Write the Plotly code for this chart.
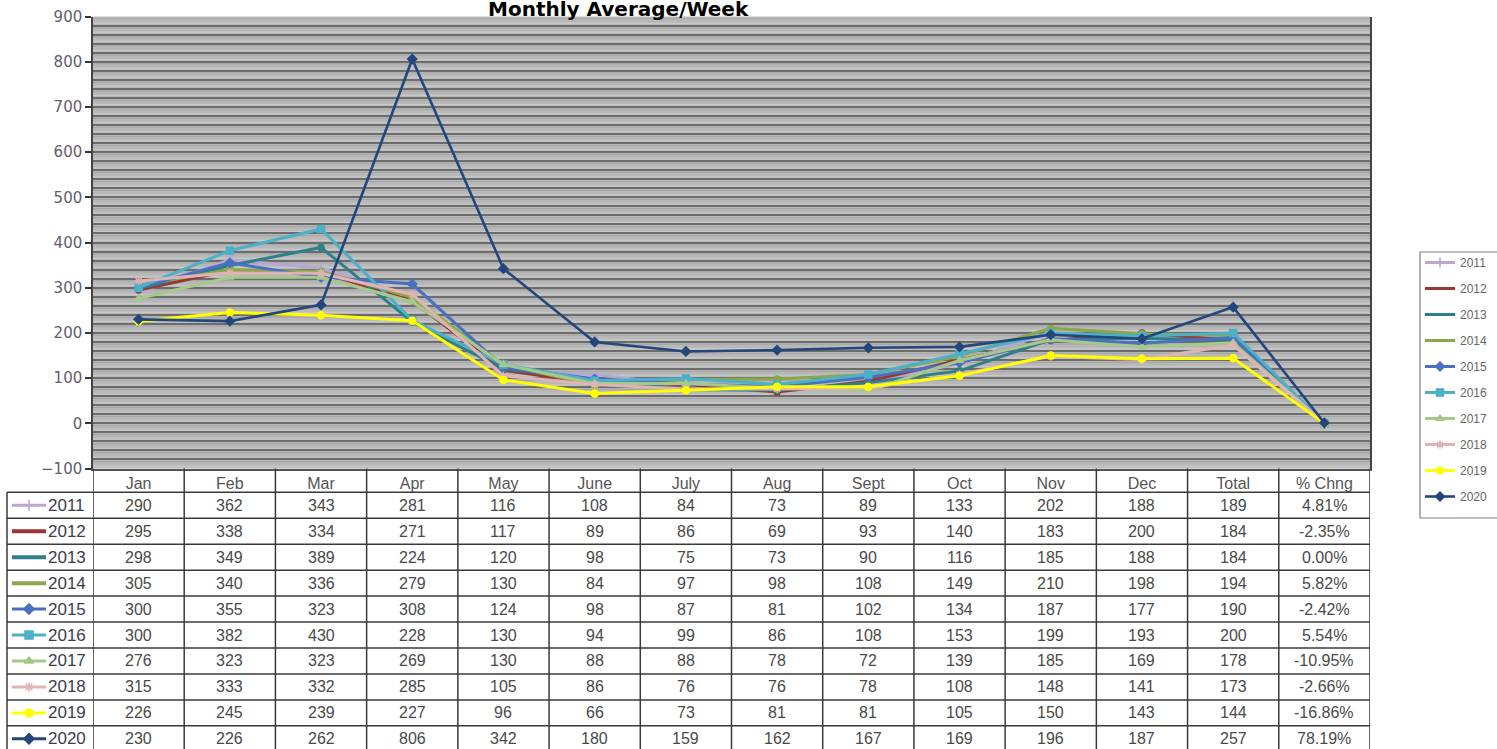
import plotly.graph_objects as go

# ---------------- data ----------------
categories = ["Jan", "Feb", "Mar", "Apr", "May", "June", "July", "Aug",
              "Sept", "Oct", "Nov", "Dec", "Total", "% Chng"]
years = ["2011", "2012", "2013", "2014", "2015", "2016", "2017", "2018", "2019", "2020"]

v2011 = [290, 362, 343, 281, 116, 108, 84, 73, 89, 133, 202, 188]
v2012 = [295, 338, 334, 271, 117, 89, 86, 69, 93, 140, 183, 200]
v2013 = [298, 349, 389, 224, 120, 98, 75, 73, 90, 116, 185, 188]
v2014 = [305, 340, 336, 279, 130, 84, 97, 98, 108, 149, 210, 198]
v2015 = [300, 355, 323, 308, 124, 98, 87, 81, 102, 134, 187, 177]
v2016 = [300, 382, 430, 228, 130, 94, 99, 86, 108, 153, 199, 193]
v2017 = [276, 323, 323, 269, 130, 88, 88, 78, 72, 139, 185, 169]
v2018 = [315, 333, 332, 285, 105, 86, 76, 76, 78, 108, 148, 141]
v2019 = [226, 245, 239, 227, 96, 66, 73, 81, 81, 105, 150, 143]
v2020 = [230, 226, 262, 806, 342, 180, 159, 162, 167, 169, 196, 187]

totals = [189, 184, 184, 194, 190, 200, 178, 173, 144, 257]
pct_change = [4.81, -2.35, 0.00, 5.82, -2.42, 5.54, -10.95, -2.66, -16.86, 78.19]

monthly = [v2011, v2012, v2013, v2014, v2015, v2016, v2017, v2018, v2019, v2020]

# ---------------- styles ----------------
colors = ["#b8a6d4", "#9c3535", "#2e8088", "#8aa84a", "#4a70c0",
          "#4bb0c8", "#a6c98a", "#e0b4b4", "#ffff00", "#23467c"]
symbols = ["cross-thin-open", "circle", "circle", "circle", "diamond",
           "square", "triangle-up", "asterisk-open", "circle", "diamond"]
msizes = [7, 0, 0, 0, 7, 7, 7, 7, 7, 7]

W, H = 1497, 749
def py(p):
    return 1 - p / H
def px(p):
    return p / W

PLOT_L, PLOT_R, PLOT_T, PLOT_B = 93, 1370, 16.5, 468.5
FONT = "Arial, Liberation Sans, sans-serif"

fig = go.Figure()

# main series
for i, yr in enumerate(years):
    yvals = monthly[i] + [totals[i], pct_change[i] / 100.0]
    fig.add_trace(go.Scatter(
        x=categories, y=yvals, name=yr, legendgroup=yr,
        mode="lines+markers",
        line=dict(color=colors[i], width=3 if i != 9 else 2.6),
        marker=dict(symbol=symbols[i], size=msizes[i], color=colors[i],
                    line=dict(color=colors[i], width=1.5)),
    ))

# ---------------- table ----------------
header_bottom = 492.3
row_h = 25.95
row_centers = [header_bottom + row_h * (k + 0.5) for k in range(len(years))]
row_lines = [header_bottom + row_h * k for k in range(len(years) + 1)]

annotations = []
shapes = []

# plot background and lighter stripes
shapes.append(dict(type="rect", xref="x domain", yref="y domain", x0=0, x1=1, y0=0, y1=1,
                   fillcolor="#b8b8b8", line=dict(width=0), layer="below"))
for k in range(-95, 900, 10):
    if k % 20 != 0:
        shapes.append(dict(type="line", xref="x domain", yref="y", x0=0, x1=1, y0=k, y1=k,
                           line=dict(color="#a6a6a6", width=1.2), layer="below"))
for k in range(-100, 900, 20):
    shapes.append(dict(type="line", xref="x domain", yref="y", x0=0, x1=1, y0=k + 5, y1=k + 5,
                       line=dict(color="#c8c8c8", width=1.5), layer="below"))

for r, yr in enumerate(years):
    yc = py(row_centers[r])
    cells = [str(v) for v in monthly[r]] + [str(totals[r]), f"{pct_change[r]:.2f}%"]
    for c, txt in enumerate(cells):
        annotations.append(dict(x=c, y=yc, xref="x", yref="paper", text=txt,
                                showarrow=False, xanchor="center", yanchor="middle",
                                font=dict(family=FONT, size=16, color="#4a4a4a")))
    annotations.append(dict(x=px(46), y=yc, xref="paper", yref="paper", text=yr,
                            showarrow=False, xanchor="left", yanchor="middle",
                            font=dict(family=FONT, size=17, color="#3c3c4c")))

line_col = "#3a3a3a"
for k in range(len(categories) + 1):
    shapes.append(dict(type="line", xref="x", yref="paper", x0=k - 0.5, x1=k - 0.5,
                       y0=py(PLOT_B), y1=0, line=dict(color=line_col, width=1.5)))
shapes.append(dict(type="line", xref="paper", yref="paper", x0=px(7), x1=px(7),
                   y0=py(header_bottom), y1=0, line=dict(color=line_col, width=1.5)))
for yl in row_lines:
    shapes.append(dict(type="line", xref="paper", yref="paper", x0=px(7), x1=px(PLOT_R),
                       y0=py(yl), y1=py(yl), line=dict(color=line_col, width=1.5)))

# legend frame (drawn as a shape so its size matches the reference)
shapes.append(dict(type="rect", xref="paper", yref="paper", x0=px(1420), x1=px(1510),
                   y0=py(518), y1=py(252), line=dict(color="#808080", width=1.2),
                   fillcolor="white", layer="below"))

# row key glyphs on a pixel overlay axis
for r, yr in enumerate(years):
    yc = row_centers[r]
    fig.add_trace(go.Scatter(x=[12, 46], y=[yc, yc], mode="lines", xaxis="x2", yaxis="y2",
                             line=dict(color=colors[r], width=4 if msizes[r] == 0 else 3),
                             showlegend=False, hoverinfo="skip"))
    if msizes[r] > 0:
        fig.add_trace(go.Scatter(x=[29], y=[yc], mode="markers", xaxis="x2", yaxis="y2",
                                 marker=dict(symbol=symbols[r], size=8, color=colors[r],
                                             line=dict(color=colors[r], width=1.5)),
                                 showlegend=False, hoverinfo="skip"))

# title
annotations.append(dict(x=px(618), y=py(8.5), xref="paper", yref="paper",
                        text="<b>Monthly Average/Week</b>", showarrow=False,
                        xanchor="center", yanchor="middle",
                        font=dict(family="DejaVu Sans, Arial, sans-serif", size=20,
                                  color="#000000")))

fig.update_layout(
    width=W, height=H,
    margin=dict(l=0, r=0, t=0, b=0, autoexpand=False),
    paper_bgcolor="white",
    plot_bgcolor="rgba(0,0,0,0)",
    font=dict(family=FONT),
    xaxis=dict(domain=[px(PLOT_L), px(PLOT_R)], type="category",
               categoryorder="array", categoryarray=categories,
               range=[-0.5, len(categories) - 0.5],
               showgrid=False, ticks="", showline=True, linecolor="#555555", linewidth=1.5,
               tickfont=dict(family=FONT, size=16, color="#555555"), zeroline=False,
               fixedrange=True, automargin=False),
    yaxis=dict(domain=[py(PLOT_B), py(PLOT_T)], range=[-100, 900], dtick=100, tick0=0,
               ticks="outside", ticklen=6, tickcolor="#333333", tickwidth=1.5,
               showline=True, linecolor="#444444", linewidth=1.5, mirror=True,
               showgrid=True, gridcolor="#6c6c6c", gridwidth=1.7,
               minor=dict(dtick=20, showgrid=True, gridcolor="#6c6c6c", gridwidth=1.7),
               zeroline=False, automargin=False,
               tickfont=dict(family="DejaVu Sans, Arial, sans-serif", size=15,
                             color="#5e5e6e"), fixedrange=True),
    xaxis2=dict(domain=[0, 1], range=[0, W], visible=False, anchor="y2", fixedrange=True),
    yaxis2=dict(domain=[0, 1], range=[H, 0], visible=False, anchor="x2", fixedrange=True),
    legend=dict(x=px(1420), y=py(248), xanchor="left", yanchor="top",
                borderwidth=0, bgcolor="rgba(0,0,0,0)",
                font=dict(family=FONT, size=12, color="#666666"),
                tracegroupgap=7, itemwidth=30),
    annotations=annotations,
    shapes=shapes,
    showlegend=True,
)

fig.write_html("out.html",
               config={"displayModeBar": False},
               post_script="document.body.style.margin='0px';"
                           "document.body.style.overflow='hidden';")
